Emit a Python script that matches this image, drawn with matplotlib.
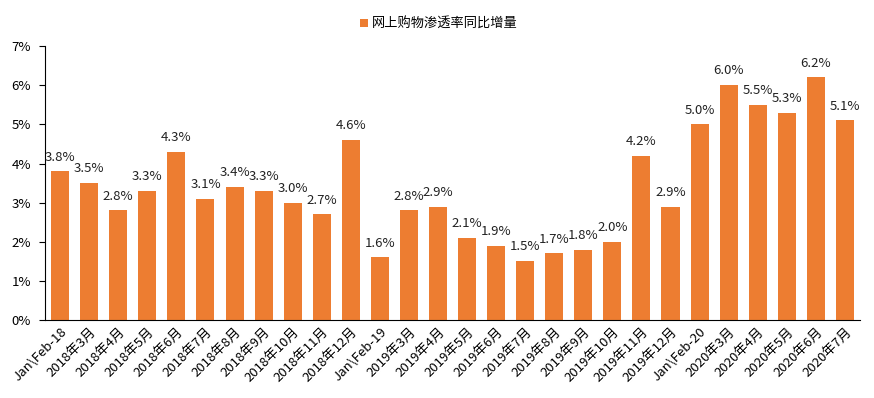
import matplotlib
matplotlib.use('Agg')
import matplotlib.pyplot as plt
import numpy as np

plt.rcParams['font.family'] = ['Noto Sans CJK SC', 'DejaVu Sans']

categories = ['Jan\\Feb-18', '2018年3月', '2018年4月', '2018年5月', '2018年6月', '2018年7月',
              '2018年8月', '2018年9月', '2018年10月', '2018年11月', '2018年12月',
              'Jan\\Feb-19', '2019年3月', '2019年4月', '2019年5月', '2019年6月', '2019年7月',
              '2019年8月', '2019年9月', '2019年10月', '2019年11月', '2019年12月',
              'Jan\\Feb-20', '2020年3月', '2020年4月', '2020年5月', '2020年6月', '2020年7月']
values = [3.8, 3.5, 2.8, 3.3, 4.3, 3.1, 3.4, 3.3, 3.0, 2.7, 4.6,
          1.6, 2.8, 2.9, 2.1, 1.9, 1.5, 1.7, 1.8, 2.0, 4.2, 2.9,
          5.0, 6.0, 5.5, 5.3, 6.2, 5.1]
series_name = '网上购物渗透率同比增量'

fig = plt.figure(figsize=(8.74, 3.98), dpi=100)
ax = fig.add_axes([0.0515, 0.196, 0.9325, 0.688])

x = np.arange(len(categories))
bars = ax.bar(x, values, width=0.62, color='#ED7D31', label=series_name)
for xi, v in zip(x, values):
    ax.text(xi, v + 0.2, '%.1f%%' % v, ha='center', va='bottom', fontsize=9.5, color='#222222')

ax.set_xlim(-0.52, len(categories) - 0.48)
ax.set_ylim(0, 7)
ax.set_yticks(range(0, 8))
ax.set_yticklabels(['%d%%' % t for t in range(0, 8)], fontsize=9.5)
ax.set_xticks(x)
ax.set_xticklabels(categories, rotation=45, ha='right', rotation_mode='anchor', fontsize=9.5)
ax.tick_params(axis='x', length=0, pad=4)
ax.tick_params(axis='y', length=4, direction='out', pad=6)
for s in ['top', 'right']:
    ax.spines[s].set_visible(False)
ax.spines['left'].set_color('black')
ax.spines['bottom'].set_color('black')

fig.legend(handles=[bars], labels=[series_name], loc='upper center', bbox_to_anchor=(0.502, 0.985),
           frameon=False, fontsize=9.5, handlelength=0.6, handleheight=0.6, handletextpad=0.3)

fig.savefig('out.png', dpi=100)
